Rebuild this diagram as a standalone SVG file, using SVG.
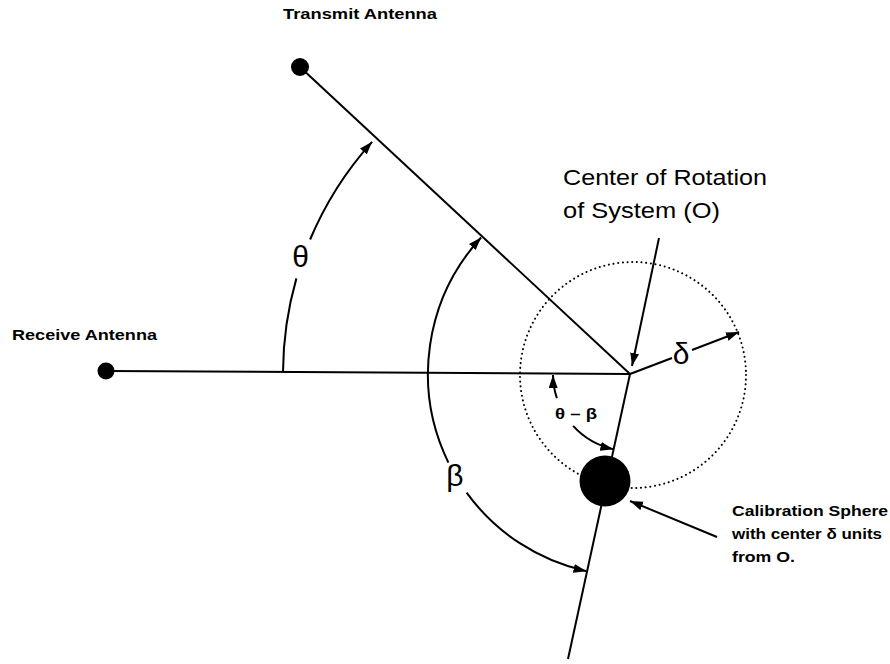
<svg xmlns="http://www.w3.org/2000/svg" width="890" height="664" viewBox="0 0 890 664">
<style>
.ln{stroke:#000;stroke-width:2;fill:none}
.arr{stroke:#000;stroke-width:2;fill:none;marker-end:url(#ah)}
.lbl{font-family:"Liberation Sans",Arial,sans-serif;font-weight:bold;font-size:15px;fill:#000}
.big{font-family:"Liberation Sans",Arial,sans-serif;font-size:22px;fill:#000}
.grk{font-family:"Liberation Sans","DejaVu Sans",sans-serif;font-size:30px;fill:#000}
</style>
<defs>
<marker id="ah" markerUnits="userSpaceOnUse" markerWidth="14" markerHeight="10" refX="13" refY="4.5" orient="auto">
<path d="M0,0 L13,4.5 L0,9 Z" fill="#000"/>
</marker>
</defs>
<rect width="890" height="664" fill="#fff"/>
<g id="connectors">
<line class="ln" x1="107" y1="371" x2="630" y2="374"/>
<line class="ln" x1="300" y1="67" x2="630" y2="374"/>
<line class="ln" x1="630" y1="374" x2="568" y2="659"/>
<circle cx="633" cy="375" r="113" fill="none" stroke="#000" stroke-width="2" stroke-linecap="round" stroke-dasharray="0.1 4.6"/>
<path class="ln" d="M283,372 A347,347 0 0 1 296.4,278.4"/>
<path class="arr" d="M310.1,239.5 A347,347 0 0 1 372.1,141.8"/>
<path class="arr" d="M448.4,462.6 A202,202 0 0 1 481.1,237.5"/>
<path class="arr" d="M466.6,492.7 A202,202 0 0 0 586.5,571.2"/>
<path class="arr" d="M556.9,398.3 A77,77 0 0 1 553,375"/>
<path class="arr" d="M573.1,425.9 A77,77 0 0 0 613.4,449.2"/>
<line class="ln" x1="630" y1="374" x2="672" y2="358"/>
<line class="arr" x1="692" y1="350" x2="739" y2="332"/>
<line class="arr" x1="659" y1="238" x2="632" y2="366"/>
<line class="arr" x1="717" y1="537" x2="630" y2="501"/>
</g>
<g id="transmit-antenna">
<circle cx="300" cy="67" r="9" fill="#000"/>
<text class="lbl" x="283" y="19" font-size="16" textLength="154" lengthAdjust="spacingAndGlyphs">Transmit Antenna</text>
</g>
<g id="receive-antenna">
<circle cx="106" cy="371" r="8.5" fill="#000"/>
<text class="lbl" x="12" y="340" textLength="145" lengthAdjust="spacingAndGlyphs">Receive Antenna</text>
</g>
<g id="center-of-rotation">
<text class="big" x="563" y="185" textLength="204" lengthAdjust="spacingAndGlyphs">Center of Rotation</text>
<text class="big" x="563" y="218" textLength="157" lengthAdjust="spacingAndGlyphs">of System (O)</text>
</g>
<g id="calibration-sphere">
<circle cx="605" cy="481" r="25.5" fill="#000"/>
<text class="lbl" x="732" y="516" textLength="156" lengthAdjust="spacingAndGlyphs">Calibration Sphere</text>
<text class="lbl" x="732" y="539" textLength="150" lengthAdjust="spacingAndGlyphs">with center δ units</text>
<text class="lbl" x="732" y="562" textLength="63" lengthAdjust="spacingAndGlyphs">from O.</text>
</g>
<g id="angle-labels">
<text class="grk" x="300.5" y="267" text-anchor="middle">θ</text>
<text class="grk" x="455" y="486" text-anchor="middle">β</text>
<text class="grk" x="681" y="364" text-anchor="middle">δ</text>
<text class="lbl" x="555" y="419" textLength="42" lengthAdjust="spacingAndGlyphs">θ – β</text>
</g>
</svg>
